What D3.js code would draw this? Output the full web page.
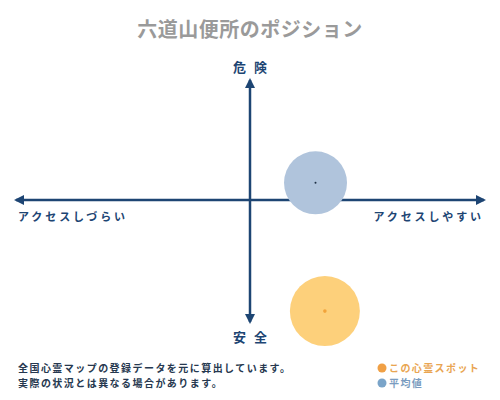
<!DOCTYPE html>
<html>
<head>
<meta charset="utf-8">
<script src="https://cdn.jsdelivr.net/npm/d3@7"></script>
<style>
  body { margin: 0; background: #fff; }
  text { font-family: "Noto Sans CJK JP", sans-serif; }
</style>
</head>
<body>
<svg></svg>
<script>
const size = {w: 500, h: 400};
const center = {x: 250, y: 200};

// data
const titleText = '六道山便所のポジション';
const axisLabels = ['危険', '安全', 'アクセスしづらい', 'アクセスしやすい'];
const seriesNames = ['この心霊スポット', '平均値'];
const seriesX = [0.32, 0.28];
const seriesY = [-0.91, 0.15];
const notes = ['全国心霊マップの登録データを元に算出しています。', '実際の状況とは異なる場合があります。'];

const navy = '#1d4573';
const svg = d3.select('svg')
    .attr('width', size.w)
    .attr('height', size.h);

const x = d3.scaleLinear().domain([-1, 1]).range([16, 484]);
const y = d3.scaleLinear().domain([-1, 1]).range([322, 80]);

svg.append('text')
    .attr('x', size.w / 2)
    .attr('y', 37)
    .attr('text-anchor', 'middle')
    .attr('font-size', 20)
    .attr('font-weight', 'bold')
    .attr('fill', '#9a9a9a')
    .attr('letter-spacing', 0.5)
    .text(titleText);

// arrow heads
const defs = svg.append('defs');
defs.append('marker')
    .attr('id', 'arrow')
    .attr('viewBox', '0 0 10 10')
    .attr('refX', 8).attr('refY', 5)
    .attr('markerWidth', 4).attr('markerHeight', 4)
    .attr('orient', 'auto-start-reverse')
    .append('path')
    .attr('d', 'M0,0 L10,5 L0,10 Z')
    .attr('fill', navy);

const axisG = svg.append('g').classed('axes', true);
axisG.append('line')
    .attr('x1', x(-1)).attr('x2', x(1))
    .attr('y1', center.y).attr('y2', center.y)
    .attr('stroke', navy).attr('stroke-width', 2.5)
    .attr('marker-start', 'url(#arrow)')
    .attr('marker-end', 'url(#arrow)');
axisG.append('line')
    .attr('x1', center.x).attr('x2', center.x)
    .attr('y1', y(1)).attr('y2', y(-1))
    .attr('stroke', navy).attr('stroke-width', 2.5)
    .attr('marker-start', 'url(#arrow)')
    .attr('marker-end', 'url(#arrow)');

const labelStyle = sel => sel
    .attr('font-weight', 'bold')
    .attr('fill', navy);

axisG.append('text').attr('x', center.x + 4).attr('y', 72)
    .attr('text-anchor', 'middle').attr('font-size', 13).attr('letter-spacing', 8)
    .call(labelStyle).text(axisLabels[0]);
axisG.append('text').attr('x', center.x + 4).attr('y', 342)
    .attr('text-anchor', 'middle').attr('font-size', 13).attr('letter-spacing', 8)
    .call(labelStyle).text(axisLabels[1]);
axisG.append('text').attr('x', 18).attr('y', 221)
    .attr('font-size', 11).attr('letter-spacing', 2.9)
    .call(labelStyle).text(axisLabels[2]);
axisG.append('text').attr('x', 484).attr('y', 221)
    .attr('text-anchor', 'end').attr('font-size', 11).attr('letter-spacing', 2.9)
    .call(labelStyle).text(axisLabels[3]);

// bubbles
const fills = ['#fdd07b', '#b0c4dc'];
const dots = ['#f2a33a', '#1d2f44'];
const radii = [35, 31.5];
const points = seriesNames.map((n, i) => ({name: n, x: seriesX[i], y: seriesY[i], i: i}));

const ptG = svg.append('g').classed('points', true);
ptG.selectAll('circle.bubble')
    .data(points)
    .enter()
    .append('circle')
    .classed('bubble', true)
    .attr('cx', d => x(d.x))
    .attr('cy', d => y(d.y))
    .attr('r', d => radii[d.i])
    .attr('fill', d => fills[d.i]);
ptG.selectAll('circle.dot')
    .data(points)
    .enter()
    .append('circle')
    .classed('dot', true)
    .attr('cx', d => x(d.x))
    .attr('cy', d => y(d.y))
    .attr('r', d => d.i === 0 ? 1.8 : 1)
    .attr('fill', d => dots[d.i]);

// footer notes
svg.append('g').selectAll('text')
    .data(notes)
    .enter()
    .append('text')
    .attr('x', 18)
    .attr('y', (d, i) => 372 + i * 15)
    .attr('font-size', 10)
    .attr('letter-spacing', 1.45)
    .call(labelStyle)
    .attr('fill', '#26384f')
    .text(d => d);

// legend
const legendDot = ['#f0a045', '#7aa4c9'];
const legendText = ['#e9a552', '#7a9cc0'];
const legG = svg.append('g').classed('legend', true);
legG.selectAll('circle')
    .data(seriesNames)
    .enter()
    .append('circle')
    .attr('cx', 382)
    .attr('cy', (d, i) => 368 + i * 15)
    .attr('r', 4.5)
    .attr('fill', (d, i) => legendDot[i]);
legG.selectAll('text')
    .data(seriesNames)
    .enter()
    .append('text')
    .attr('x', 389)
    .attr('y', (d, i) => 372 + i * 15)
    .attr('font-size', 10)
    .attr('font-weight', 'bold')
    .attr('letter-spacing', 1.4)
    .attr('fill', (d, i) => legendText[i])
    .text(d => d);
</script>
</body>
</html>
